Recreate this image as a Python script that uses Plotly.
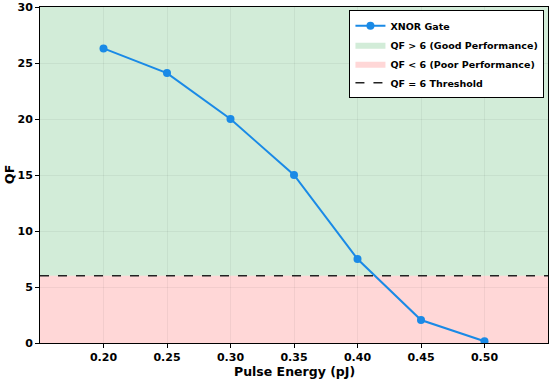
import plotly.graph_objects as go

pulse_energy = [0.20, 0.25, 0.30, 0.35, 0.40, 0.45, 0.50]
qf_values = [26.3, 24.1, 20.0, 15.0, 7.5, 2.05, 0.15]
threshold = 6
x_range = [0.15, 0.55]
y_range = [0, 30]
x_ticks = [0.20, 0.25, 0.30, 0.35, 0.40, 0.45, 0.50]
y_ticks = [0, 5, 10, 15, 20, 25, 30]

green = "rgba(118,196,136,0.33)"
red = "rgba(255,140,140,0.35)"
blue = "#1a8ae6"

fig = go.Figure()

fig.add_trace(go.Scatter(
    x=pulse_energy, y=qf_values, mode="lines+markers", name="<b>XNOR Gate</b>",
    line=dict(color=blue, width=2), marker=dict(size=8, color=blue)))
fig.add_trace(go.Scatter(
    x=[None], y=[None], mode="lines", fill="toself", fillcolor=green,
    line=dict(width=0, color=green), name="<b>QF > 6 (Good Performance)</b>"))
fig.add_trace(go.Scatter(
    x=[None], y=[None], mode="lines", fill="toself", fillcolor=red,
    line=dict(width=0, color=red), name="<b>QF < 6 (Poor Performance)</b>"))
fig.add_trace(go.Scatter(
    x=x_range, y=[threshold, threshold], mode="lines", name="<b>QF = 6 Threshold</b>",
    line=dict(color="#222", width=1.5, dash="dash")))

fig.add_shape(type="rect", xref="x domain", yref="y", x0=0, x1=1, y0=threshold, y1=y_range[1],
              fillcolor=green, line=dict(width=0), layer="below")
fig.add_shape(type="rect", xref="x domain", yref="y", x0=0, x1=1, y0=y_range[0], y1=threshold,
              fillcolor=red, line=dict(width=0), layer="below")

fig.add_annotation(text="<b>Pulse Energy (pJ)</b>", xref="paper", yref="paper",
                   x=0.5, y=0, yanchor="middle", yshift=-28, showarrow=False,
                   font=dict(size=12.5))
fig.add_annotation(text="<b>QF</b>", xref="paper", yref="paper", textangle=-90,
                   x=0, y=0.5, xanchor="center", xshift=-31, showarrow=False,
                   font=dict(size=12.5))

fig.update_layout(
    width=550, height=379,
    margin=dict(l=40, r=2, t=7, b=36),
    paper_bgcolor="white", plot_bgcolor="white",
    font=dict(family="DejaVu Sans", size=11, color="black"),
    showlegend=True,
    legend=dict(x=0.993, y=0.99, xanchor="right", yanchor="top",
                bgcolor="white", bordercolor="black", borderwidth=1,
                font=dict(family="DejaVu Sans", size=9.5, color="black"),
                tracegroupgap=0, itemwidth=30),
)
fig.update_xaxes(
    range=x_range, tickvals=x_ticks, ticktext=[f"<b>{v:.2f}</b>" for v in x_ticks],
    showline=True, linecolor="black", linewidth=1, mirror=True,
    ticks="outside", ticklen=4, tickcolor="black",
    showgrid=True, gridcolor="rgba(0,0,0,0.05)", zeroline=False,
    tickfont=dict(size=11))
fig.update_yaxes(
    range=y_range, tickvals=y_ticks, ticktext=[f"<b>{v}</b>" for v in y_ticks],
    showline=True, linecolor="black", linewidth=1, mirror=True,
    ticks="outside", ticklen=4, tickcolor="black",
    showgrid=True, gridcolor="rgba(0,0,0,0.05)", zeroline=False,
    tickfont=dict(size=11))

fig.write_html("out.html", config={"displayModeBar": False},
               post_script="document.body.style.margin='0';document.body.style.padding='0';")
